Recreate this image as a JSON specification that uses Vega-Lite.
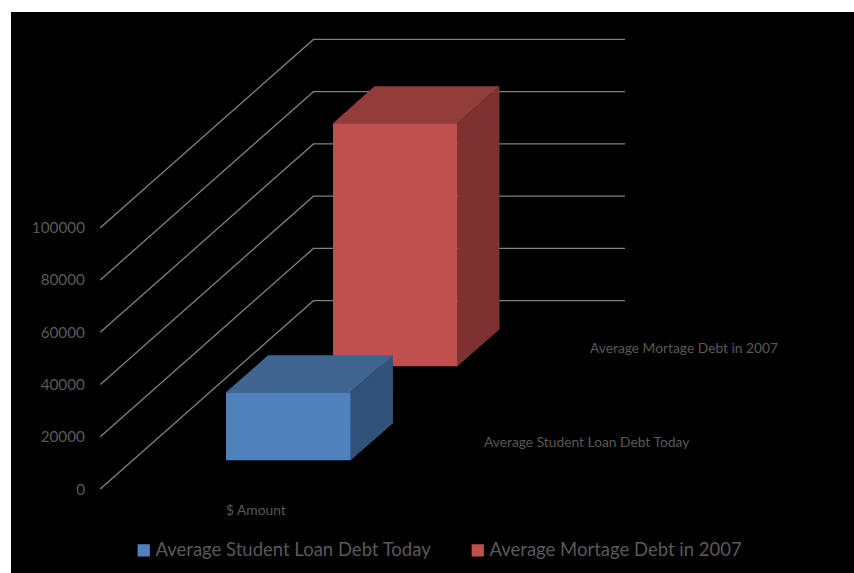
{
  "$schema": "https://vega.github.io/schema/vega-lite/v6.json",
  "width": 843,
  "height": 561,
  "autosize": "none",
  "padding": {"left": 11, "top": 12, "right": 0, "bottom": 0},
  "background": "#ffffff",
  "view": {"fill": "#000000", "stroke": null},
  "config": {"font": "Lato"},
  "datasets": {
    "walls": [
      {"level": 0, "x": 10.59, "amount": 0},
      {"level": 0, "x": 35.88, "amount": 72060},
      {"level": 0, "x": 72.83, "amount": 72060},
      {"level": 20000, "x": 10.59, "amount": 20000},
      {"level": 20000, "x": 35.88, "amount": 92060},
      {"level": 20000, "x": 72.83, "amount": 92060},
      {"level": 40000, "x": 10.59, "amount": 40000},
      {"level": 40000, "x": 35.88, "amount": 112060},
      {"level": 40000, "x": 72.83, "amount": 112060},
      {"level": 60000, "x": 10.59, "amount": 60000},
      {"level": 60000, "x": 35.88, "amount": 132060},
      {"level": 60000, "x": 72.83, "amount": 132060},
      {"level": 80000, "x": 10.59, "amount": 80000},
      {"level": 80000, "x": 35.88, "amount": 152060},
      {"level": 80000, "x": 72.83, "amount": 152060},
      {"level": 100000, "x": 10.59, "amount": 100000},
      {"level": 100000, "x": 35.88, "amount": 172060},
      {"level": 100000, "x": 72.83, "amount": 172060}
    ],
    "faces": [
      {"series": "Average Mortage Debt in 2007", "face": "top", "x": 38.2, "low": 140000, "high": 140000},
      {"series": "Average Mortage Debt in 2007", "face": "top", "x": 43.12, "low": 140000, "high": 154150},
      {"series": "Average Mortage Debt in 2007", "face": "top", "x": 52.97, "low": 140000, "high": 154150},
      {"series": "Average Mortage Debt in 2007", "face": "top", "x": 57.95, "low": 154150, "high": 154150},
      {"series": "Average Mortage Debt in 2007", "face": "side", "x": 52.97, "low": 47000, "high": 140000},
      {"series": "Average Mortage Debt in 2007", "face": "side", "x": 57.95, "low": 61150, "high": 154150},
      {"series": "Average Mortage Debt in 2007", "face": "front", "x": 38.2, "low": 47000, "high": 140000},
      {"series": "Average Mortage Debt in 2007", "face": "front", "x": 52.97, "low": 47000, "high": 140000},
      {"series": "Average Student Loan Debt Today", "face": "top", "x": 25.5, "low": 37000, "high": 37000},
      {"series": "Average Student Loan Debt Today", "face": "top", "x": 30.49, "low": 37000, "high": 51150},
      {"series": "Average Student Loan Debt Today", "face": "top", "x": 40.3, "low": 37000, "high": 51150},
      {"series": "Average Student Loan Debt Today", "face": "top", "x": 45.31, "low": 51150, "high": 51150},
      {"series": "Average Student Loan Debt Today", "face": "side", "x": 40.3, "low": 11000, "high": 37000},
      {"series": "Average Student Loan Debt Today", "face": "side", "x": 45.31, "low": 25150, "high": 51150},
      {"series": "Average Student Loan Debt Today", "face": "front", "x": 25.5, "low": 11000, "high": 37000},
      {"series": "Average Student Loan Debt Today", "face": "front", "x": 40.3, "low": 11000, "high": 37000}
    ],
    "labels": [
      {"label": "$ Amount", "x": 25.5, "amount": -8400},
      {"label": "Average Student Loan Debt Today", "x": 56.11, "amount": 17600},
      {"label": "Average Mortage Debt in 2007", "x": 68.68, "amount": 53600}
    ]
  },
  "layer": [
    {
      "data": {"name": "walls"},
      "mark": {"type": "line", "stroke": "#808080", "strokeWidth": 1.3},
      "encoding": {
        "detail": {"field": "level"},
        "x": {"field": "x", "type": "quantitative", "scale": {"domain": [0, 100], "nice": false, "zero": false}, "axis": null},
        "y": {
          "field": "amount",
          "type": "quantitative",
          "scale": {"domain": [-32147, 182549], "nice": false, "zero": false},
          "axis": {
            "orient": "left",
            "values": [0, 20000, 40000, 60000, 80000, 100000],
            "format": "d",
            "title": null,
            "domain": false,
            "ticks": false,
            "grid": false,
            "offset": -73.5,
            "labelPadding": 0,
            "labelFont": "Lato",
            "labelFontSize": 15.3,
            "labelColor": "#595959"
          }
        }
      }
    },
    {
      "data": {"name": "faces"},
      "transform": [{"filter": "datum.series === 'Average Mortage Debt in 2007' && datum.face === 'top'"}],
      "mark": {"type": "area", "orient": "vertical", "fill": "#933d3a", "opacity": 1},
      "encoding": {
        "x": {"field": "x", "type": "quantitative", "axis": null},
        "y": {"field": "low", "type": "quantitative", "stack": null},
        "y2": {"field": "high"}
      }
    },
    {
      "data": {"name": "faces"},
      "transform": [{"filter": "datum.series === 'Average Mortage Debt in 2007' && datum.face === 'side'"}],
      "mark": {"type": "area", "orient": "vertical", "fill": "#7d3230", "opacity": 1},
      "encoding": {
        "x": {"field": "x", "type": "quantitative", "axis": null},
        "y": {"field": "low", "type": "quantitative", "stack": null},
        "y2": {"field": "high"}
      }
    },
    {
      "data": {"name": "faces"},
      "transform": [{"filter": "datum.series === 'Average Mortage Debt in 2007' && datum.face === 'front'"}],
      "mark": {"type": "area", "orient": "vertical", "opacity": 1},
      "encoding": {
        "x": {"field": "x", "type": "quantitative", "axis": null},
        "y": {"field": "low", "type": "quantitative", "stack": null},
        "y2": {"field": "high"},
        "color": {
          "field": "series",
          "type": "nominal",
          "scale": {
            "domain": ["Average Student Loan Debt Today", "Average Mortage Debt in 2007"],
            "range": ["#4f81bd", "#c0504d"]
          },
          "legend": {
            "orient": "none",
            "legendX": 123.5,
            "legendY": 529,
            "direction": "horizontal",
            "columns": 2,
            "title": null,
            "padding": 0,
            "columnPadding": 37,
            "symbolType": "square",
            "symbolSize": 150,
            "symbolStrokeWidth": 0,
            "symbolOpacity": 1,
            "labelFont": "Lato",
            "labelFontSize": 18.5,
            "labelColor": "#595959",
            "labelOffset": 2.5,
            "labelLimit": 400
          }
        }
      }
    },
    {
      "data": {"name": "faces"},
      "transform": [{"filter": "datum.series === 'Average Student Loan Debt Today' && datum.face === 'top'"}],
      "mark": {"type": "area", "orient": "vertical", "fill": "#3f6591", "opacity": 1},
      "encoding": {
        "x": {"field": "x", "type": "quantitative", "axis": null},
        "y": {"field": "low", "type": "quantitative", "stack": null},
        "y2": {"field": "high"}
      }
    },
    {
      "data": {"name": "faces"},
      "transform": [{"filter": "datum.series === 'Average Student Loan Debt Today' && datum.face === 'side'"}],
      "mark": {"type": "area", "orient": "vertical", "fill": "#31527a", "opacity": 1},
      "encoding": {
        "x": {"field": "x", "type": "quantitative", "axis": null},
        "y": {"field": "low", "type": "quantitative", "stack": null},
        "y2": {"field": "high"}
      }
    },
    {
      "data": {"name": "faces"},
      "transform": [{"filter": "datum.series === 'Average Student Loan Debt Today' && datum.face === 'front'"}],
      "mark": {"type": "area", "orient": "vertical", "opacity": 1},
      "encoding": {
        "x": {"field": "x", "type": "quantitative", "axis": null},
        "y": {"field": "low", "type": "quantitative", "stack": null},
        "y2": {"field": "high"},
        "color": {"field": "series", "type": "nominal"}
      }
    },
    {
      "data": {"name": "labels"},
      "mark": {"type": "text", "align": "left", "baseline": "middle", "font": "Lato", "fontSize": 13.8, "color": "#595959"},
      "encoding": {
        "x": {"field": "x", "type": "quantitative", "axis": null},
        "y": {"field": "amount", "type": "quantitative"},
        "text": {"field": "label"}
      }
    }
  ]
}
